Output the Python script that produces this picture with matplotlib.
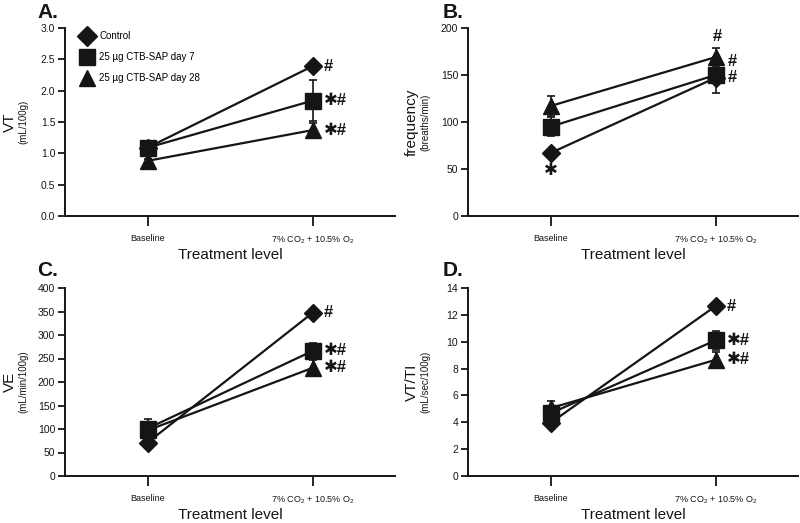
import matplotlib
matplotlib.use("Agg")
import matplotlib.pyplot as plt
from matplotlib.lines import Line2D
import numpy as np

plt.rcParams['font.family'] = ['Liberation Sans', 'DejaVu Sans']
plt.rcParams['mathtext.fontset'] = 'custom'
plt.rcParams['mathtext.rm'] = 'Liberation Sans'
plt.rcParams['mathtext.it'] = 'Liberation Sans:italic'
plt.rcParams['mathtext.bf'] = 'Liberation Sans:bold'

conditions = ["Baseline", "7% CO$_\\mathregular{2}$ + 10.5% O$_\\mathregular{2}$"]
series_names = ["Control", "25 \u00b5g CTB-SAP day 7", "25 \u00b5g CTB-SAP day 28"]
markers = ['D', 's', '^']
msizes = [9, 11, 11]

# Panel A: VT (mL/100g)
vt_mean = [[1.09, 2.39], [1.09, 1.84], [0.88, 1.37]]
vt_sem = [[0.03, 0.03], [0.05, 0.33], [0.03, 0.12]]
# Panel B: frequency (breaths/min)
f_mean = [[67, 147], [95, 150], [117, 169]]
f_sem = [[3, 4], [10, 19], [11, 10]]
# Panel C: VE (mL/min/100g)
ve_mean = [[71, 347], [101, 266], [97, 230]]
ve_sem = [[5, 5], [20, 16], [10, 16]]
# Panel D: VT/TI (mL/sec/100g)
vtti_mean = [[3.95, 12.65], [4.67, 10.1], [5.05, 8.65]]
vtti_sem = [[0.2, 0.2], [0.5, 0.7], [0.55, 0.6]]

# significance labels per series at [baseline, challenge]
sig_A = [["", "#"], ["", "\u2731#"], ["", "\u2731#"]]
sig_B = [["\u2731", "#"], ["", "#"], ["", "#"]]
sig_C = [["", "#"], ["", "\u2731#"], ["", "\u2731#"]]
sig_D = [["", "#"], ["", "\u2731#"], ["", "\u2731#"]]

W, H = 800, 523
fig = plt.figure(figsize=(8, 5.23), dpi=100)
col = '#151515'

def ax_rect(l, t, r, b):
    return [l / W, 1 - b / H, (r - l) / W, (b - t) / H]

panels = [
    dict(rect=ax_rect(65, 28, 395, 216), mean=vt_mean, sem=vt_sem, ylim=(0, 3.0),
         yt=np.arange(0, 3.01, 0.5), fmt="{:.1f}", letter="A.", lx=37, ly=12,
         ylab="VT", ysub="(mL/100g)", ylx=10, sig=sig_A, legend=True),
    dict(rect=ax_rect(468, 28, 798, 216), mean=f_mean, sem=f_sem, ylim=(0, 200),
         yt=np.arange(0, 201, 50), fmt="{:.0f}", letter="B.", lx=443, ly=12,
         ylab="frequency", ysub="(breaths/min)", ylx=412, sig=sig_B, legend=False),
    dict(rect=ax_rect(65, 288, 395, 476), mean=ve_mean, sem=ve_sem, ylim=(0, 400),
         yt=np.arange(0, 401, 50), fmt="{:.0f}", letter="C.", lx=37, ly=270,
         ylab="VE", ysub="(mL/min/100g)", ylx=10, sig=sig_C, legend=False),
    dict(rect=ax_rect(468, 288, 798, 476), mean=vtti_mean, sem=vtti_sem, ylim=(0, 14),
         yt=np.arange(0, 14.1, 2), fmt="{:.0f}", letter="D.", lx=443, ly=270,
         ylab="VT/TI", ysub="(mL/sec/100g)", ylx=412, sig=sig_D, legend=False),
]

x = np.arange(len(conditions))
for p in panels:
    ax = fig.add_axes(p['rect'])
    for i in range(3):
        ax.errorbar(x, p['mean'][i], yerr=p['sem'][i], fmt='none', ecolor=col,
                    elinewidth=1.2, capsize=3, capthick=1.2, zorder=2)
        ax.plot(x, p['mean'][i], color=col, lw=1.6, marker=markers[i],
                ms=msizes[i], mfc=col, mec=col, zorder=3, label=series_names[i])
    ax.set_xlim(-0.5, 1.5)
    ax.set_ylim(*p['ylim'])
    ax.set_yticks(p['yt'])
    ax.set_yticklabels([p['fmt'].format(v) for v in p['yt']], fontsize=7.5)
    ax.set_xticks(x)
    ax.set_xticklabels(conditions, fontsize=6.5)
    for s in ['top', 'right']:
        ax.spines[s].set_visible(False)
    for s in ['left', 'bottom']:
        ax.spines[s].set_linewidth(1.4)
        ax.spines[s].set_color(col)
    ax.tick_params(axis='y', length=5, width=1.3, colors=col, pad=2)
    ax.tick_params(axis='x', length=7, width=1.3, colors=col, pad=6)
    ax.patch.set_alpha(0)

    # significance annotations
    for i in range(3):
        for j in range(2):
            s = p['sig'][i][j]
            if not s:
                continue
            xv, yv = x[j], p['mean'][i][j]
            if p['letter'] == "B.":
                if j == 0:
                    spots = [((0, -12), 'center')]
                elif i == 2:
                    spots = [((1, 15), 'center'), ((9, -3), 'left')]
                elif i == 0:
                    spots = [((9, 0), 'left')]
                else:
                    spots = []
            else:
                spots = [((8, 0), 'left')]
            for off, ha in spots:
                ax.annotate(s, (xv, yv), xytext=off, textcoords='offset points',
                            ha=ha, va='center', fontsize=12, fontweight='bold',
                            color=col,
                            family=['DejaVu Sans'] if s == "\u2731" else ['Liberation Sans', 'DejaVu Sans'])

    if p['legend']:
        proxies = [Line2D([], [], ls='none', marker=markers[i], ms=msizes[i] + 1,
                          mfc=col, mec=col) for i in range(3)]
        ax.legend(proxies, series_names, loc='upper left', bbox_to_anchor=(0.035, 1.015),
                  frameon=False, fontsize=7, handlelength=1.0, handletextpad=0.75,
                  labelspacing=1.15, borderaxespad=0.2, numpoints=1)

    l = p['rect'][0] * W
    r = (p['rect'][0] + p['rect'][2]) * W
    b = (1 - p['rect'][1]) * H
    t = b - p['rect'][3] * H
    fig.text(p['lx'] / W, 1 - p['ly'] / H, p['letter'], fontsize=15, fontweight='bold',
             ha='left', va='center', color=col)
    yc = 1 - ((t + b) / 2) / H
    fig.text(p['ylx'] / W, yc, p['ylab'], rotation=90, fontsize=11, ha='center',
             va='center', color=col)
    fig.text((p['ylx'] + 13) / W, yc, p['ysub'], rotation=90, fontsize=7, ha='center',
             va='center', color=col)
    fig.text(((l + r) / 2) / W, 1 - (b + 39) / H, "Treatment level", fontsize=11,
             ha='center', va='center', color=col)

fig.savefig("out.png", dpi=100, facecolor='white')
